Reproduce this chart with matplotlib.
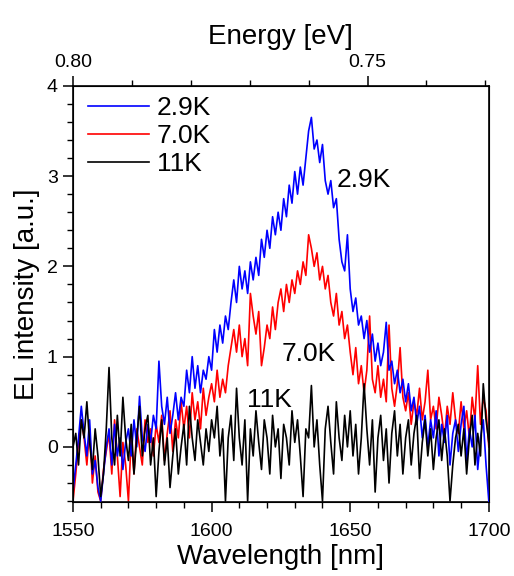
import numpy as np
import matplotlib as mpl
mpl.use('Agg')
import matplotlib.pyplot as plt
from matplotlib.ticker import MultipleLocator, FormatStrFormatter

# wavelength grid, 1 nm steps
wavelength = np.arange(1550, 1701, 1)

# 2.9K
el_29k = [
    -0.5, -0.2, 0.1, 0.45, 0.15, -0.1, 0.3, -0.3, -0.15, -0.45,
    -0.6, -0.3, 0.0, 0.2, -0.2, 0.25, -0.1, 0.1, -0.25, 0.05,
    0.2, -0.1, 0.3, 0.0, 0.56, 0.1, -0.05, 0.25, 0.05, 0.35,
    0.2, 0.95, 0.45, 0.25, 0.55, 0.15, 0.35, 0.6, 0.3, 0.55,
    0.45, 0.85, 0.6, 1.0, 0.65, 0.9, 0.6, 0.85, 0.75, 1.0,
    0.85, 1.3, 1.05, 1.35, 1.15, 1.45, 1.3, 1.6, 1.85, 1.6,
    2.0, 1.75, 1.95, 1.7, 2.05, 1.85, 2.1, 1.9, 2.3, 2.1,
    2.4, 2.2, 2.55, 2.35, 2.6, 2.4, 2.75, 2.55, 2.9, 2.7,
    3.05, 2.8, 3.1, 2.9, 3.2, 3.5, 3.65, 3.3, 3.4, 3.15,
    3.35, 2.95, 2.8, 2.95, 2.65, 2.75, 2.3, 2.05, 1.95, 2.35,
    1.75, 1.5, 1.65, 1.35, 1.45, 1.2, 1.4, 1.05, 1.25, 0.95,
    1.15, 0.9, 1.05, 1.38, 0.85, 0.95, 0.7, 0.85, 0.6, 0.75,
    0.5, 0.7, 0.4, 0.55, 0.25, 0.45, 0.1, 0.35, 0.0, 0.3,
    0.1, 0.4, -0.1, 0.25, 0.05, 0.35, -0.2, 0.15, 0.3, -0.05,
    0.25, 0.45, -0.15, 0.2, 0.0, 0.35, -0.25, 0.1, 0.3, -0.2,
    -0.6]

# 7.0K
el_70k = [
    -0.6, -0.3, 0.05, 0.3, 0.1, -0.2, 0.2, -0.4, -0.1, -0.5,
    -0.6, -0.25, -0.05, 0.15, -0.3, 0.3, -0.1, -0.55, 0.05, -0.2,
    -0.6, 0.1, -0.3, 0.2, 0.0, -0.2, 0.3, 0.05, 0.2, -0.1,
    0.25, 0.05, 0.35, -0.15, 0.15, 0.4, -0.05, 0.3, 0.1, 0.5,
    0.2, 0.45, 0.1, 0.6, 0.3, 0.5, 0.2, 0.65, 0.35, 0.55,
    0.7, 0.5, 0.85, 0.55, 0.75, 0.6, 0.9, 1.1, 1.3, 1.05,
    1.35, 1.0, 1.2, 0.9, 1.7, 1.45, 1.25, 1.5, 0.9, 1.1,
    1.35, 1.2, 1.55, 1.3, 1.6, 1.75, 1.5, 1.8, 1.6, 1.85,
    1.7, 1.95, 1.8, 2.05, 1.9, 2.35, 2.2, 2.0, 2.15, 1.85,
    2.0, 1.75, 1.9, 1.6, 1.45, 1.7, 1.35, 1.5, 1.2, 1.35,
    1.05, 0.8, 1.1, 0.7, 0.9, 0.6, 0.85, 1.45, 0.75, 0.6,
    0.9, 0.55, 0.75, 0.5, 1.35, 0.65, 0.45, 0.7, 1.1, 0.55,
    0.4, 0.6, 0.25, 0.5, 0.35, 0.65, 0.3, 0.5, 0.85, 0.3,
    0.45, 0.2, 0.55, 0.35, 0.1, 0.45, 0.25, 0.6, 0.3, 0.15,
    0.5, 0.2, 0.4, 0.1, 0.55, 0.3, 0.9, 0.25, 0.55, 0.4,
    0.0]

# 11K
el_11k = [
    0.0, 0.15, -0.2, 0.3, 0.1, 0.5, 0.05, -0.25, 0.2, -0.1,
    -0.55, -0.3, 0.2, 0.88, 0.1, -0.2, 0.35, -0.1, 0.55, 0.1,
    -0.15, 0.25, -0.3, 0.1, 0.45, -0.1, 0.2, 0.35, -0.2, 0.1,
    -0.55, -0.05, 0.3, -0.2, 0.1, -0.45, -0.1, 0.2, -0.3, 0.0,
    0.25, -0.2, 0.45, 0.1, -0.15, 0.3, 0.05, -0.2, 0.2, -0.05,
    0.3, 0.1, 0.45, -0.1, 0.2, -0.6, 0.1, 0.35, -0.15, 0.65,
    0.1, -0.2, 0.3, -0.6, 0.2, -0.1, 0.4, 0.05, -0.25, 0.3,
    0.1, -0.3, 0.35, 0.0, 0.2, -0.35, 0.25, 0.1, -0.2, 0.4,
    0.05, 0.3, -0.1, -0.55, 0.2, 0.1, 0.68, 0.0, 0.3, -0.2,
    -0.6, 0.2, 0.45, 0.05, -0.3, 0.5, 0.1, -0.15, 0.35, 0.0,
    0.4, -0.1, 0.25, -0.3, 0.1, 0.7, 0.2, -0.2, 0.3, -0.5,
    0.1, 0.35, -0.15, 0.2, -0.4, 0.15, 0.4, -0.1, 0.25, -0.3,
    0.1, 0.3, -0.2, 0.15, 0.35, -0.35, 0.05, 0.3, -0.1, 0.2,
    -0.25, 0.1, 0.3, -0.15, 0.2, -0.1, -0.6, -0.2, 0.1, 0.25,
    -0.1, 0.2, -0.3, 0.1, 0.35, -0.2, 0.15, -0.1, 0.7, 0.3,
    0.05]

labels = ['2.9K', '7.0K', '11K']
colors = ['#0000ff', '#ff0000', '#000000']

plt.rcParams['font.family'] = ['Liberation Sans', 'DejaVu Sans']

fig = plt.figure(figsize=(5.14, 5.76), dpi=100)
ax = fig.add_axes([0.142, 0.1285, 0.809, 0.7225])

ax.plot(wavelength, el_70k, color=colors[1], lw=1.2, label=labels[1], zorder=2)
ax.plot(wavelength, el_29k, color=colors[0], lw=1.2, label=labels[0], zorder=3)
ax.plot(wavelength, el_11k, color=colors[2], lw=1.2, label=labels[2], zorder=4)

ax.set_xlim(1550, 1700)
ax.set_ylim(-0.61, 4)
ax.set_xticks([1550, 1600, 1650, 1700])
ax.xaxis.set_minor_locator(MultipleLocator(10))
ax.set_yticks([0, 1, 2, 3, 4])
ax.yaxis.set_minor_locator(MultipleLocator(0.2))
ax.tick_params(axis='both', which='major', direction='out', length=7, width=1.1, labelsize=14)
ax.tick_params(axis='both', which='minor', direction='out', length=4, width=1.0)
ax.tick_params(axis='x', pad=8)
ax.tick_params(axis='y', pad=4)
ax.tick_params(top=False, right=False, which='both')
for s in ax.spines.values():
    s.set_linewidth(1.2)

ax.set_xlabel('Wavelength [nm]', fontsize=20, labelpad=3)
ax.set_ylabel('EL intensity [a.u.]', fontsize=20, labelpad=5)

# energy axis on top, linear in eV
ax2 = ax.twiny()
ax2.set_xlim(1240 / 1550, 1240 / 1700)
ax2.xaxis.set_major_locator(MultipleLocator(0.05))
ax2.xaxis.set_minor_locator(MultipleLocator(0.01))
ax2.xaxis.set_major_formatter(FormatStrFormatter('%.2f'))
ax2.tick_params(axis='x', which='major', direction='out', length=7, width=1.1, labelsize=14, pad=4)
ax2.tick_params(axis='x', which='minor', direction='out', length=4, width=1.0)
ax2.set_xlabel('Energy [eV]', fontsize=20, labelpad=7)

handles, labs = ax.get_legend_handles_labels()
order = [labs.index(l) for l in labels]
ax.legend([handles[i] for i in order], labels, loc='upper left',
          bbox_to_anchor=(0.036, 0.975), frameon=False, fontsize=19,
          handlelength=2.3, handletextpad=0.3, labelspacing=0.15,
          borderpad=0, borderaxespad=0)

ax.text(1645.2, 2.96, '2.9K', fontsize=19, va='center', ha='left', zorder=5)
ax.text(1625.4, 1.03, '7.0K', fontsize=19, va='center', ha='left', zorder=5)
ax.text(1612.7, 0.52, '11K', fontsize=19, va='center', ha='left', zorder=5)

fig.savefig('out.png', dpi=100)
